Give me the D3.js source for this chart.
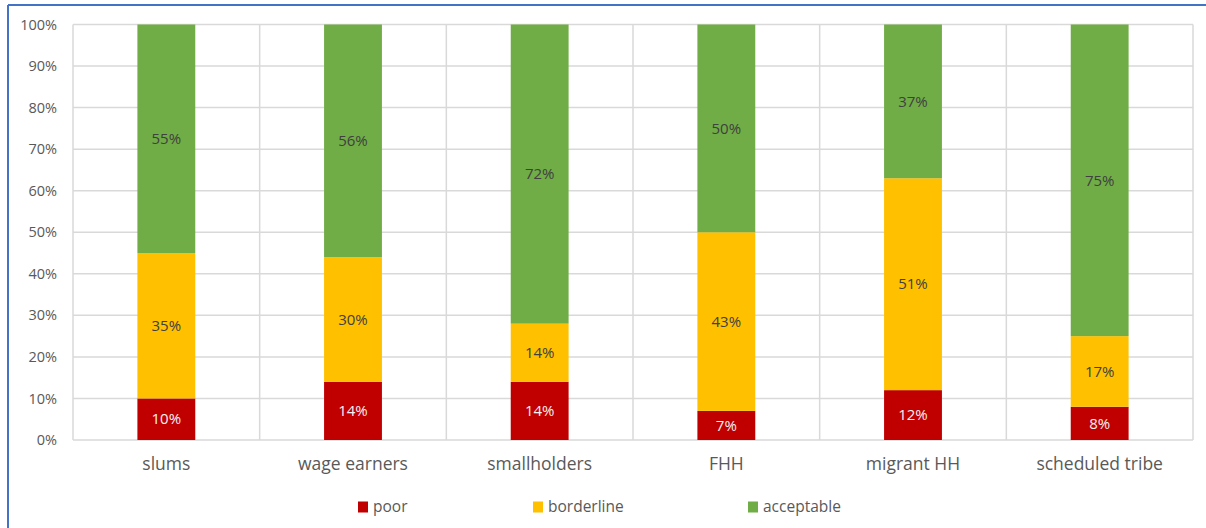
<!DOCTYPE html>
<html>
<head>
<meta charset="utf-8">
<script src="https://cdn.jsdelivr.net/npm/d3@7"></script>
<style>
  body { margin: 0; background: #fff; }
  svg { display: block; font-family: "Open Sans", "Noto Sans", sans-serif; }
</style>
</head>
<body>
<div id="chart"></div>
<script>
// data
const categories = ["slums", "wage earners", "smallholders", "FHH", "migrant HH", "scheduled tribe"];
const poor       = [10, 14, 14, 7, 12, 8];
const borderline = [35, 30, 14, 43, 51, 17];
const acceptable = [55, 56, 72, 50, 37, 75];
const seriesNames = ["poor", "borderline", "acceptable"];
const yTicks = [0, 10, 20, 30, 40, 50, 60, 70, 80, 90, 100];

const colors = ["#C00000", "#FFC000", "#70AD47"];
const labelColors = ["#f2f2f2", "#404040", "#404040"];

const W = 1206, H = 528;
const margin = {top: 24.5, right: 13, bottom: 88, left: 73};
const width = W - margin.left - margin.right;
const height = H - margin.top - margin.bottom;

const svg = d3.select("#chart").append("svg")
    .attr("width", W)
    .attr("height", H);

// outer frame (blue border)
svg.append("line").attr("x1", 8).attr("x2", W).attr("y1", 5).attr("y2", 5)
    .attr("stroke", "#4472C4").attr("stroke-width", 2);
svg.append("line").attr("x1", 8).attr("x2", 8).attr("y1", 5).attr("y2", H)
    .attr("stroke", "#4472C4").attr("stroke-width", 2);

const chart = svg.append("g")
    .attr("transform", "translate(" + margin.left + "," + margin.top + ")");

const data = categories.map(function(c, i) {
  return {cat: c, poor: poor[i], borderline: borderline[i], acceptable: acceptable[i]};
});

const x = d3.scaleBand()
    .domain(categories)
    .range([0, width])
    .paddingInner(0.69)
    .paddingOuter(0.345);

const y = d3.scaleLinear()
    .domain([0, 100])
    .range([height, 0]);

const z = d3.scaleOrdinal().domain(seriesNames).range(colors);

// horizontal gridlines
chart.append("g")
  .selectAll("line")
  .data(yTicks)
  .enter().append("line")
    .attr("x1", 0).attr("x2", width)
    .attr("y1", function(d) { return y(d); })
    .attr("y2", function(d) { return y(d); })
    .attr("stroke", "#d9d9d9").attr("stroke-width", 1.5);

// vertical gridlines between categories
const vlines = d3.range(categories.length + 1).map(function(i) { return i * width / categories.length; });
chart.append("g")
  .selectAll("line")
  .data(vlines)
  .enter().append("line")
    .attr("x1", function(d) { return d; }).attr("x2", function(d) { return d; })
    .attr("y1", 0).attr("y2", height)
    .attr("stroke", "#d9d9d9").attr("stroke-width", 1.5);

const stacked = d3.stack().keys(seriesNames)(data);

const layers = chart.append("g")
  .selectAll("g")
  .data(stacked)
  .enter().append("g")
    .attr("fill", function(d) { return z(d.key); });

layers.selectAll("rect")
  .data(function(d) { return d; })
  .enter().append("rect")
    .attr("x", function(d) { return x(d.data.cat); })
    .attr("y", function(d) { return y(d[1]); })
    .attr("height", function(d) { return y(d[0]) - y(d[1]); })
    .attr("width", x.bandwidth());

// value labels
stacked.forEach(function(s, si) {
  chart.append("g").selectAll("text")
    .data(s)
    .enter().append("text")
      .attr("x", function(d) { return x(d.data.cat) + x.bandwidth() / 2; })
      .attr("y", function(d) { return (y(d[0]) + y(d[1])) / 2; })
      .attr("dy", "0.35em")
      .attr("text-anchor", "middle")
      .attr("font-size", 15)
      .attr("fill", labelColors[si])
      .text(function(d) { return (d[1] - d[0]) + "%"; });
});

// y axis labels
const yAxis = chart.append("g")
    .call(d3.axisLeft(y).tickValues(yTicks).tickFormat(function(d) { return d + "%"; }).tickSize(0).tickPadding(16));
yAxis.select(".domain").remove();
yAxis.selectAll("text")
    .attr("font-size", 14.5)
    .attr("font-family", "'Open Sans', sans-serif")
    .attr("fill", "#595959");

// x axis labels
const xAxis = chart.append("g")
    .attr("transform", "translate(0," + height + ")")
    .call(d3.axisBottom(x).tickSize(0).tickPadding(18));
xAxis.select(".domain").remove();
xAxis.selectAll("text")
    .attr("font-size", 17.5)
    .attr("font-family", "'Open Sans', sans-serif")
    .attr("fill", "#595959");

// legend
const legendX = [358, 533, 748];
const legend = svg.append("g")
  .selectAll("g")
  .data(seriesNames)
  .enter().append("g")
    .attr("transform", function(d, i) { return "translate(" + legendX[i] + ",507)"; });

legend.append("rect")
    .attr("x", 0).attr("y", -5.5)
    .attr("width", 10).attr("height", 11)
    .attr("fill", z);

legend.append("text")
    .attr("x", 15)
    .attr("dy", "0.35em")
    .attr("font-size", 15.5)
    .attr("fill", "#595959")
    .text(function(d) { return d; });
</script>
</body>
</html>
